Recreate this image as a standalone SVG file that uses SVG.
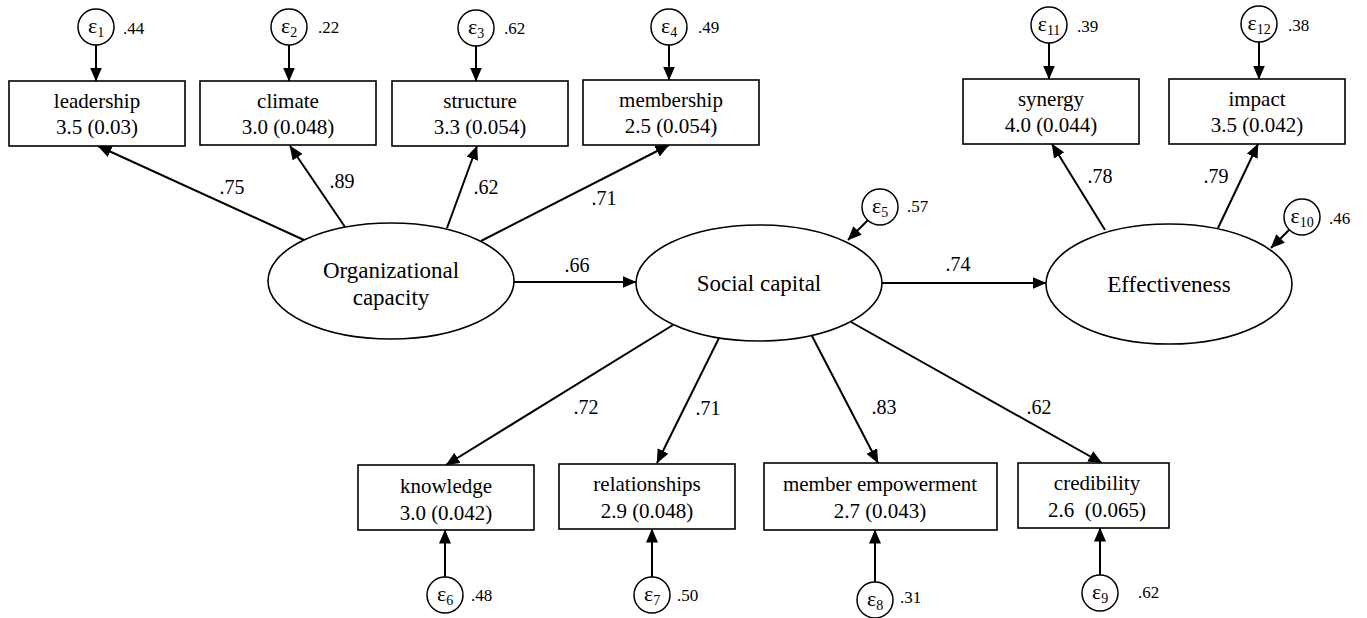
<svg xmlns="http://www.w3.org/2000/svg" width="1367" height="618" viewBox="0 0 1367 618">
  <style>
    .box { fill: #fff; stroke: #000; stroke-width: 1.6; }
    .lat { fill: #fff; stroke: #000; stroke-width: 1.6; }
    .err { fill: #fff; stroke: #000; stroke-width: 1.5; }
    text { font-family: "Liberation Serif", "Times New Roman", serif; fill: #000; }
    .lbl { font-size: 21px; text-anchor: middle; }
    .latlbl { font-size: 23px; text-anchor: middle; }
    .eps { font-size: 22px; text-anchor: middle; }
    .sub { font-size: 14px; }
    .var { font-size: 17px; }
    .coef { font-size: 20px; text-anchor: middle; }
    .edge { stroke: #000; stroke-width: 2; fill: none; marker-end: url(#arrow); }
  </style>
  <defs>
    <marker id="arrow" markerUnits="userSpaceOnUse" viewBox="0 0 14 12" markerWidth="14" markerHeight="12" refX="13.5" refY="6" orient="auto">
      <path d="M0,0 L14,6 L0,12 z" fill="#000"/>
    </marker>
  </defs>
  <rect width="1367" height="618" fill="#fff"/>

  <!-- connectors -->
  <g id="connectors">
    <!-- error terms to indicators -->
    <line class="edge" x1="96" y1="45" x2="96" y2="81"/>
    <line class="edge" x1="289" y1="45" x2="289" y2="81"/>
    <line class="edge" x1="476" y1="46" x2="476" y2="81"/>
    <line class="edge" x1="669" y1="45" x2="669" y2="80"/>
    <line class="edge" x1="1049" y1="43" x2="1049" y2="79"/>
    <line class="edge" x1="1259" y1="42" x2="1259" y2="79"/>
    <line class="edge" x1="445" y1="577" x2="445" y2="530"/>
    <line class="edge" x1="652" y1="577" x2="652" y2="529"/>
    <line class="edge" x1="875" y1="582" x2="875" y2="530"/>
    <line class="edge" x1="1100" y1="575" x2="1100" y2="528"/>
    <!-- disturbances on latent variables -->
    <line class="edge" x1="868" y1="220" x2="848" y2="240"/>
    <line class="edge" x1="1290" y1="229" x2="1271" y2="248"/>
    <!-- loadings: organizational capacity -->
    <line class="edge" x1="304" y1="240" x2="98" y2="146"/>
    <line class="edge" x1="345" y1="227" x2="290" y2="146"/>
    <line class="edge" x1="447" y1="228" x2="477" y2="146"/>
    <line class="edge" x1="481" y1="241" x2="669" y2="145"/>
    <!-- structural paths -->
    <line class="edge" x1="514" y1="282" x2="636" y2="282"/>
    <line class="edge" x1="882" y1="283" x2="1046" y2="283"/>
    <!-- loadings: effectiveness -->
    <line class="edge" x1="1105" y1="230" x2="1052" y2="144"/>
    <line class="edge" x1="1218" y1="228" x2="1258" y2="144"/>
    <!-- loadings: social capital -->
    <line class="edge" x1="673" y1="325" x2="446" y2="465"/>
    <line class="edge" x1="719" y1="338" x2="657" y2="463"/>
    <line class="edge" x1="812" y1="336" x2="878" y2="463"/>
    <line class="edge" x1="851" y1="322" x2="1102" y2="463"/>

    <!-- coefficients -->
    <text class="coef" x="232" y="194">.75</text>
    <text class="coef" x="342" y="188">.89</text>
    <text class="coef" x="486" y="194">.62</text>
    <text class="coef" x="604" y="205">.71</text>
    <text class="coef" x="577" y="272">.66</text>
    <text class="coef" x="958" y="271">.74</text>
    <text class="coef" x="1100" y="183">.78</text>
    <text class="coef" x="1216" y="183">.79</text>
    <text class="coef" x="586" y="414">.72</text>
    <text class="coef" x="708" y="415">.71</text>
    <text class="coef" x="884" y="414">.83</text>
    <text class="coef" x="1039" y="414">.62</text>
  </g>

  <!-- latent variables -->
  <g id="org-capacity">
    <ellipse class="lat" cx="391" cy="281" rx="123" ry="58"/>
    <text class="latlbl" x="391" y="278">Organizational</text>
    <text class="latlbl" x="391" y="305">capacity</text>
  </g>
  <g id="social-capital">
    <ellipse class="lat" cx="759" cy="283" rx="123" ry="58"/>
    <text class="latlbl" x="759" y="291">Social capital</text>
  </g>
  <g id="effectiveness">
    <ellipse class="lat" cx="1169" cy="284" rx="123" ry="60"/>
    <text class="latlbl" x="1169" y="292">Effectiveness</text>
  </g>

  <!-- indicators -->
  <g id="leadership">
    <rect class="box" x="9" y="81" width="176" height="65"/>
    <text class="lbl" x="97" y="108">leadership</text>
    <text class="lbl" x="97" y="134">3.5 (0.03)</text>
  </g>
  <g id="climate">
    <rect class="box" x="200" y="81" width="176" height="64"/>
    <text class="lbl" x="288" y="108">climate</text>
    <text class="lbl" x="288" y="134">3.0 (0.048)</text>
  </g>
  <g id="structure">
    <rect class="box" x="392" y="81" width="176" height="65"/>
    <text class="lbl" x="480" y="108">structure</text>
    <text class="lbl" x="480" y="134">3.3 (0.054)</text>
  </g>
  <g id="membership">
    <rect class="box" x="583" y="80" width="176" height="65"/>
    <text class="lbl" x="671" y="107">membership</text>
    <text class="lbl" x="671" y="133">2.5 (0.054)</text>
  </g>
  <g id="synergy">
    <rect class="box" x="963" y="79" width="176" height="65"/>
    <text class="lbl" x="1051" y="106">synergy</text>
    <text class="lbl" x="1051" y="132">4.0 (0.044)</text>
  </g>
  <g id="impact">
    <rect class="box" x="1169" y="79" width="176" height="65"/>
    <text class="lbl" x="1257" y="106">impact</text>
    <text class="lbl" x="1257" y="132">3.5 (0.042)</text>
  </g>
  <g id="knowledge">
    <rect class="box" x="358" y="465" width="176" height="65"/>
    <text class="lbl" x="446" y="493">knowledge</text>
    <text class="lbl" x="446" y="520">3.0 (0.042)</text>
  </g>
  <g id="relationships">
    <rect class="box" x="559" y="464" width="176" height="65"/>
    <text class="lbl" x="647" y="491">relationships</text>
    <text class="lbl" x="647" y="518">2.9 (0.048)</text>
  </g>
  <g id="member-empowerment">
    <rect class="box" x="764" y="463" width="233" height="67"/>
    <text class="lbl" x="880" y="491">member empowerment</text>
    <text class="lbl" x="880" y="518">2.7 (0.043)</text>
  </g>
  <g id="credibility">
    <rect class="box" x="1018" y="463" width="151" height="65"/>
    <text class="lbl" x="1097" y="490">credibility</text>
    <text class="lbl" x="1097" y="517" xml:space="preserve">2.6  (0.065)</text>
  </g>

  <!-- error terms -->
  <g id="e1">
    <circle class="err" cx="96" cy="27" r="18"/>
    <text class="eps" x="96" y="33">ε<tspan class="sub" dy="4">1</tspan></text>
    <text class="var" x="123" y="34">.44</text>
  </g>
  <g id="e2">
    <circle class="err" cx="289" cy="27" r="18"/>
    <text class="eps" x="289" y="33">ε<tspan class="sub" dy="4">2</tspan></text>
    <text class="var" x="318" y="33">.22</text>
  </g>
  <g id="e3">
    <circle class="err" cx="476" cy="28" r="18"/>
    <text class="eps" x="476" y="34">ε<tspan class="sub" dy="4">3</tspan></text>
    <text class="var" x="504" y="34">.62</text>
  </g>
  <g id="e4">
    <circle class="err" cx="669" cy="27" r="18"/>
    <text class="eps" x="669" y="33">ε<tspan class="sub" dy="4">4</tspan></text>
    <text class="var" x="698" y="33">.49</text>
  </g>
  <g id="e5">
    <circle class="err" cx="880" cy="207" r="18"/>
    <text class="eps" x="880" y="213">ε<tspan class="sub" dy="4">5</tspan></text>
    <text class="var" x="907" y="212">.57</text>
  </g>
  <g id="e6">
    <circle class="err" cx="445" cy="595" r="18"/>
    <text class="eps" x="445" y="601">ε<tspan class="sub" dy="4">6</tspan></text>
    <text class="var" x="471" y="601">.48</text>
  </g>
  <g id="e7">
    <circle class="err" cx="652" cy="595" r="18"/>
    <text class="eps" x="652" y="601">ε<tspan class="sub" dy="4">7</tspan></text>
    <text class="var" x="677" y="601">.50</text>
  </g>
  <g id="e8">
    <circle class="err" cx="875" cy="600" r="18"/>
    <text class="eps" x="875" y="606">ε<tspan class="sub" dy="4">8</tspan></text>
    <text class="var" x="900" y="603">.31</text>
  </g>
  <g id="e9">
    <circle class="err" cx="1100" cy="593" r="18"/>
    <text class="eps" x="1100" y="599">ε<tspan class="sub" dy="4">9</tspan></text>
    <text class="var" x="1138" y="598">.62</text>
  </g>
  <g id="e10">
    <circle class="err" cx="1302" cy="217" r="18"/>
    <text class="eps" x="1302" y="223">ε<tspan class="sub" dy="4">10</tspan></text>
    <text class="var" x="1329" y="224">.46</text>
  </g>
  <g id="e11">
    <circle class="err" cx="1049" cy="25" r="18"/>
    <text class="eps" x="1049" y="31">ε<tspan class="sub" dy="4">11</tspan></text>
    <text class="var" x="1077" y="32">.39</text>
  </g>
  <g id="e12">
    <circle class="err" cx="1259" cy="24" r="18"/>
    <text class="eps" x="1259" y="30">ε<tspan class="sub" dy="4">12</tspan></text>
    <text class="var" x="1288" y="31">.38</text>
  </g>
</svg>
